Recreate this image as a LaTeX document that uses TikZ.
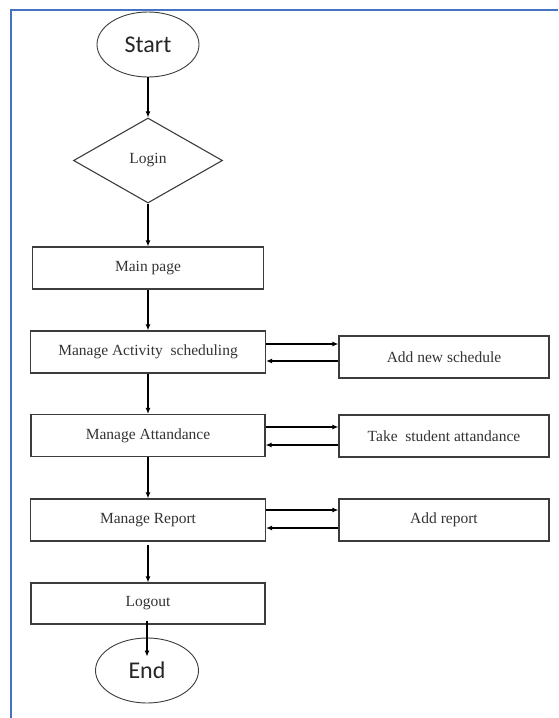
\documentclass[tikz,border=0pt]{standalone}
\usepackage{fontspec}
\setmainfont{Liberation Serif}
\newfontfamily\calibri{Carlito}
\usetikzlibrary{shapes.geometric, arrows.meta}
\definecolor{frameblue}{HTML}{4472C4}
\definecolor{boxgray}{HTML}{3C3C3C}

\begin{document}
\begin{tikzpicture}[x = 1pt, y = -1pt,
  box/.style = {draw = boxgray, line width = 1.1pt, rectangle, minimum height = 42pt, inner sep = 0pt, text = black!80, font = \fontsize{15.5}{18}\selectfont},
  term/.style = {draw = boxgray, line width = 0.9pt, ellipse, minimum width = 102pt, minimum height = 65pt, inner sep = 0pt, text = black!85, font = \calibri\fontsize{24}{28}\selectfont},
  arr/.style = {line width = 1.4pt, -{Latex[length = 6pt, width = 5pt]}}]

\useasboundingbox (0,0) rectangle (558,718);
\draw [frameblue, line width = 2pt] (11,718) -- (11,10) -- (558,10);

\node [term] (v1) at (148,44.5) {Start};
\node [box, diamond, minimum width = 149pt, minimum height = 85pt, aspect = 1.75] (v2) at (148,160.5) {Login};
\node [box, minimum width = 231pt] (v3) at (148,268) {Main page};
\node [box, minimum width = 235pt] (v4) at (148,352) {Manage Activity\ \ scheduling};
\node [box, minimum width = 234pt] (v6) at (148,435.5) {Manage Attandance};
\node [box, minimum width = 235pt] (v8) at (148,520) {Manage Report};
\node [box, minimum width = 234pt, minimum height = 41pt] (v10) at (148,603.5) {Logout};
\node [term, minimum width = 103pt] (v11) at (147,670.5) {End};

\node [box, minimum width = 210pt] (v5) at (444,357) {Add new schedule};
\node [box, minimum width = 210pt] (v7) at (444,436) {Take\ \ student attandance};
\node [box, minimum width = 210pt] (v9) at (444,520) {Add report};

\draw [arr] (v1) edge (v2);
\draw [arr] (v2) edge (v3);
\draw [arr] (v3) edge (v4);
\draw [arr] (v4) edge (v6);
\draw [arr] (v6) edge (v8);
\draw [arr] ([yshift = -3pt]v8.south) -- (v10);
\draw [arr] ([xshift = -1pt, yshift = 4pt]v10.south) -- ([yshift = -19pt]v11.north);

\draw [arr] ([yshift = 8pt]v4.east) -- ([yshift = 13pt]v5.west);
\draw [arr] ([yshift = -4pt]v5.west) -- ([yshift = -9pt]v4.east);
\draw [arr] ([yshift = 8.5pt]v6.east) -- ([yshift = 9pt]v7.west);
\draw [arr] ([yshift = -9pt]v7.west) -- ([yshift = -9.5pt]v6.east);
\draw [arr] ([yshift = 10pt]v8.east) -- ([yshift = 10pt]v9.west);
\draw [arr] ([yshift = -8pt]v9.west) -- ([yshift = -8pt]v8.east);
\end{tikzpicture}
\end{document}
